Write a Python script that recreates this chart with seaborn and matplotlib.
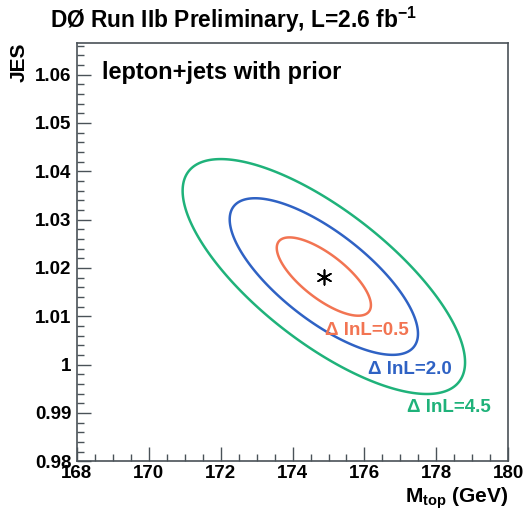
import numpy as np
import seaborn as sns
import matplotlib.pyplot as plt
from matplotlib.ticker import MultipleLocator

# fit result
m_top_center = 174.87
jes_center = 1.0182
sigma_mtop = 1.31
sigma_jes = 0.0081
rho = -0.73

levels = [0.5, 2.0, 4.5]
level_colors = ['#f27452', '#2f62c4', '#1fb27a']
label_text = ['Δ lnL=0.5', 'Δ lnL=2.0', 'Δ lnL=4.5']
label_x = [176.07, 177.27, 178.36]
label_y = [1.0071, 0.9990, 0.9911]

x_ticks = [168, 170, 172, 174, 176, 178, 180]
y_ticks = [0.98, 0.99, 1.00, 1.01, 1.02, 1.03, 1.04, 1.05, 1.06]
y_tick_labels = ['0.98', '0.99', '1', '1.01', '1.02', '1.03', '1.04', '1.05', '1.06']


def configure_plot_style():
    sns.set_theme(style='white')
    plt.rcParams['font.family'] = ['Liberation Sans', 'DejaVu Sans']
    plt.rcParams['font.weight'] = 'bold'
    plt.rcParams['text.color'] = 'black'
    plt.rcParams['axes.labelcolor'] = 'black'
    plt.rcParams['mathtext.fontset'] = 'custom'
    plt.rcParams['mathtext.rm'] = 'Liberation Sans:bold'
    plt.rcParams['mathtext.bf'] = 'Liberation Sans:bold'
    plt.rcParams['mathtext.default'] = 'bf'


configure_plot_style()

fig = plt.figure(figsize=(5.31, 5.13), dpi=100)
ax = fig.add_axes([0.145, 0.101, 0.812, 0.815])

# -Delta lnL surface of the 2D gaussian
mm = np.linspace(168, 180, 600)
jj = np.linspace(0.98, 1.0665, 600)
M, J = np.meshgrid(mm, jj)
dx = (M - m_top_center) / sigma_mtop
dy = (J - jes_center) / sigma_jes
dlnl = 0.5 * (dx**2 - 2 * rho * dx * dy + dy**2) / (1 - rho**2)

ax.contour(M, J, dlnl, levels=levels, colors=level_colors, linewidths=1.8)

sns.scatterplot(x=[m_top_center], y=[jes_center], marker=(6, 2, 0), s=110,
                color='black', linewidth=1.2, ax=ax, legend=False)

for t, x, y, c in zip(label_text, label_x, label_y, level_colors):
    ax.text(x, y, t, color=c, fontsize=13.5, fontweight='bold',
            ha='center', va='center')

ax.text(168.7, 1.0605, 'lepton+jets with prior', fontsize=17,
        fontweight='bold', va='center', ha='left')

ax.set_xlim(168, 180)
ax.set_ylim(0.98, 1.0665)
ax.set_xticks(x_ticks)
ax.set_xticklabels([str(v) for v in x_ticks])
ax.set_yticks(y_ticks)
ax.set_yticklabels(y_tick_labels)
ax.xaxis.set_minor_locator(MultipleLocator(0.5))
ax.yaxis.set_minor_locator(MultipleLocator(0.002))
ax.tick_params(which='both', direction='in', colors='#4a5258',
               labelcolor='black', labelsize=13.5, width=1,
               bottom=True, left=True, top=False, right=False)
ax.tick_params(which='major', length=10, pad=4)
ax.tick_params(which='minor', length=5)
ax.tick_params(axis='x', which='major', pad=3)
for lab in ax.get_xticklabels() + ax.get_yticklabels():
    lab.set_fontweight('bold')

for sp in ax.spines.values():
    sp.set_color('#4a5258')
    sp.set_linewidth(1.2)

ax.set_xlabel('')
ax.set_ylabel('')
fig.text(0.957, 1 - 503 / 513, r'M$_{top}$ (GeV)', fontsize=15,
         fontweight='bold', ha='right', va='baseline')
fig.text(0.036, 0.879, 'JES', fontsize=15, fontweight='bold', rotation=90,
         ha='center', va='center')
fig.text(50 / 531, 1 - 20 / 513, r'DØ Run IIb Preliminary, L=2.6 fb$^{-1}$',
         fontsize=16.4, fontweight='bold', ha='left', va='center')

plt.savefig('out.png', dpi=100)
